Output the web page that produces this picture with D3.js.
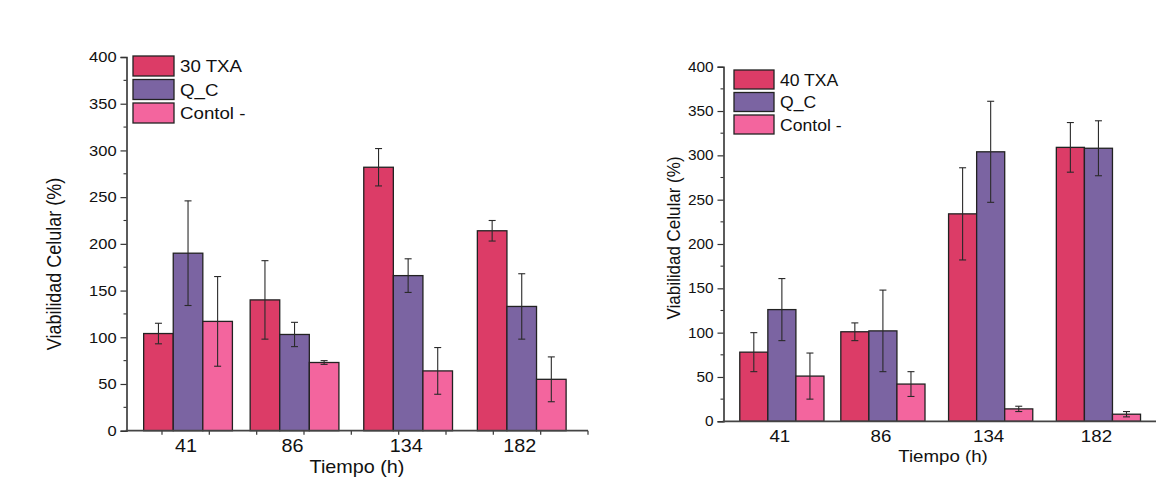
<!DOCTYPE html>
<html><head><meta charset="utf-8">
<script src="https://cdn.jsdelivr.net/npm/d3@7"></script>
<style>
body{margin:0;background:#fff;}
svg{display:block;font-family:"Liberation Sans",Arial,sans-serif;}
</style></head>
<body><svg id="c" width="1156" height="503"></svg>
<script>
// ---- data ----
const categories = [41, 86, 134, 182];
const yTicks = [0, 50, 100, 150, 200, 250, 300, 350, 400];
const xMinorTicks = [30, 50, 70, 90, 110, 130, 150, 170, 190, 210];

const seriesNamesLeft = ["30 TXA", "Q_C", "Contol -"];
const txa30 = [104, 140, 282, 214];
const txa30Err = [11, 42, 20, 11];
const qcLeft = [190, 103, 166, 133];
const qcLeftErr = [56, 13, 18, 35];
const ctrlLeft = [117, 73, 64, 55];
const ctrlLeftErr = [48, 2, 25, 24];

const seriesNamesRight = ["40 TXA", "Q_C", "Contol -"];
const txa40 = [78, 101, 234, 309];
const txa40Err = [22, 10, 52, 28];
const qcRight = [126, 102, 304, 308];
const qcRightErr = [35, 46, 57, 31];
const ctrlRight = [51, 42, 14, 8];
const ctrlRightErr = [26, 14, 3, 3];

const colors = ["#DC3C67", "#7B64A2", "#F3659E"];
const yTitle = "Viabilidad Celular (%)";
const xTitle = "Tiempo (h)";

const svg = d3.select("#c");

function stext(g, x, y, sx, fs, anchor, txt) {
  return g.append("text").attr("transform", `translate(${x},${y}) scale(${sx},1)`)
    .attr("text-anchor", anchor).attr("font-size", fs).attr("fill", "#111").text(txt);
}

function panel(o) {
  const g = svg.append("g");
  const x = d3.scaleLinear().domain([15, 210]).range([o.x0, o.x1]);
  const y = d3.scaleLinear().domain([0, 400]).range([o.yb, o.yt]);
  const bw = 12.5;
  const series = o.series;

  // bars
  series.forEach((s, si) => {
    const gg = g.append("g");
    gg.selectAll("rect").data(s.vals).enter().append("rect")
      .attr("x", (d, i) => x(categories[i] + (si - 1.5) * bw))
      .attr("width", (d, i) => x(categories[i] + (si - 0.5) * bw) - x(categories[i] + (si - 1.5) * bw))
      .attr("y", d => y(d))
      .attr("height", d => y(0) - y(d))
      .attr("fill", colors[si]).attr("stroke", "#222").attr("stroke-width", 1.3);
  });
  // error bars
  series.forEach((s, si) => {
    s.vals.forEach((v, i) => {
      const cx = x(categories[i] + (si - 1) * bw);
      const e = s.err[i];
      const eg = g.append("g").attr("stroke", "#2a2a2a").attr("stroke-width", 1.1);
      eg.append("line").attr("x1", cx).attr("x2", cx).attr("y1", y(v + e)).attr("y2", y(v - e));
      eg.append("line").attr("x1", cx - 3.5).attr("x2", cx + 3.5).attr("y1", y(v + e)).attr("y2", y(v + e));
      eg.append("line").attr("x1", cx - 3.5).attr("x2", cx + 3.5).attr("y1", y(v - e)).attr("y2", y(v - e));
    });
  });

  // y axis
  const ya = g.append("g").attr("transform", `translate(${o.x0},0)`)
    .call(d3.axisLeft(y).tickValues(yTicks).tickSize(6).tickPadding(3));
  ya.select(".domain").attr("stroke", "#333").attr("stroke-width", 1.6);
  ya.selectAll(".tick line").attr("stroke", "#333").attr("stroke-width", 1.2);
  ya.selectAll(".tick text").attr("font-size", o.ytfs).attr("fill", "#111")
    .attr("font-family", "Liberation Sans, Arial, sans-serif")
    .attr("transform", `scale(${o.sx},1)`);
  const minor = d3.range(25, 400, 50);
  g.append("g").selectAll("line").data(minor).enter().append("line")
    .attr("x1", o.x0 - 3).attr("x2", o.x0).attr("y1", d => y(d)).attr("y2", d => y(d))
    .attr("stroke", "#333").attr("stroke-width", 1.1);

  // x axis line
  const xr = Math.min(o.x1, 1156);
  g.append("line").attr("x1", o.x0 - 0.8).attr("x2", xr).attr("y1", y(0)).attr("y2", y(0))
    .attr("stroke", "#444").attr("stroke-width", 1.8);
  if (o.xticks) {
    g.append("g").selectAll("line").data(xMinorTicks).enter().append("line")
      .attr("x1", d => x(d)).attr("x2", d => x(d)).attr("y1", y(0)).attr("y2", y(0) + 4)
      .attr("stroke", "#444").attr("stroke-width", 1.3);
  }
  categories.forEach(c => stext(g, x(c) - 2, o.xlabY, o.sx, o.xlfs, "middle", c));

  // titles
  stext(g, o.xtX, o.xtY, o.sx, o.xlfs, "middle", xTitle);
  g.append("text").attr("transform", `translate(${o.ytX},${o.ytY}) rotate(-90) scale(1,${o.ytsy})`)
    .attr("text-anchor", "middle").attr("font-size", o.ytitfs).attr("fill", "#111").text(yTitle);

  // legend
  series.forEach((s, si) => {
    const ly = o.legY + si * o.legStep;
    g.append("rect").attr("x", o.legX).attr("y", ly).attr("width", o.legW).attr("height", o.legH)
      .attr("fill", colors[si]).attr("stroke", "#222").attr("stroke-width", 1.3);
    stext(g, o.legX + o.legW + 6, ly + o.legH / 2 + 6, o.sx, o.legfs, "start", s.name);
  });
}

panel({
  x0: 126.5, x1: 588, yb: 430.7, yt: 57, sx: 1.1,
  series: [
    {name: seriesNamesLeft[0], vals: txa30, err: txa30Err},
    {name: seriesNamesLeft[1], vals: qcLeft, err: qcLeftErr},
    {name: seriesNamesLeft[2], vals: ctrlLeft, err: ctrlLeftErr}
  ],
  ytfs: 15, xlfs: 18, xlabY: 452, xtX: 357, xtY: 473,
  ytX: 61, ytY: 264, ytitfs: 18, ytsy: 1.15,
  legX: 133, legY: 56, legStep: 23.5, legW: 41, legH: 20, legfs: 17, xticks: true
});

panel({
  x0: 723.5, x1: 1161.3, yb: 421.3, yt: 66.7, sx: 1.1,
  series: [
    {name: seriesNamesRight[0], vals: txa40, err: txa40Err},
    {name: seriesNamesRight[1], vals: qcRight, err: qcRightErr},
    {name: seriesNamesRight[2], vals: ctrlRight, err: ctrlRightErr}
  ],
  ytfs: 14, xlfs: 17, xlabY: 442, xtX: 943, xtY: 462,
  ytX: 680, ytY: 238, ytitfs: 17, ytsy: 1.05,
  legX: 734, legY: 70, legStep: 22.5, legW: 40, legH: 19, legfs: 16, xticks: false
});
</script></body></html>
